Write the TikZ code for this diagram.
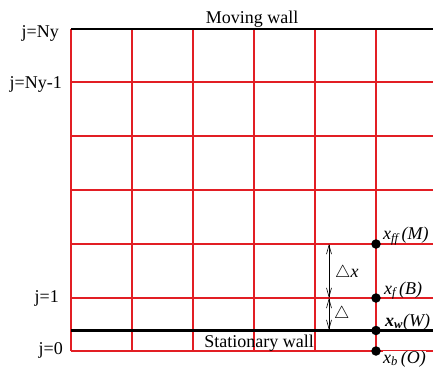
\documentclass[tikz,border=0pt]{standalone}
\usepackage{fontspec}
\setmainfont{Liberation Serif}
\usetikzlibrary{arrows.meta}
\definecolor{gridred}{RGB}{226,30,36}
\begin{document}
\begin{tikzpicture}[x=1pt,y=-1pt,
  gridline/.style={draw=gridred,line width=1.1pt},
  wall/.style={draw=black,line width=#1},
  lbl/.style={inner sep=0pt,font=\fontsize{18}{21}\selectfont},
  ptdot/.style={circle,fill=black,inner sep=0pt,minimum size=9.5pt},
  dimarrow/.style={line width=0.6pt,{Straight Barb[length=9pt,width=5pt]}-{Straight Barb[length=9pt,width=5pt]}}]
\useasboundingbox (0,0) rectangle (433,367);
% vertical grid lines
\foreach \x in {71,132,193,254,315,376}
  \draw[gridline] (\x,29) -- (\x,351);
% horizontal grid lines
\foreach \y in {82,136,190,244,298,351}
  \draw[gridline] (71,\y) -- (433,\y);
% walls
\draw[wall=1.6pt] (71,29) -- (433,29);
\draw[wall=2.6pt] (71,330.5) -- (433,330.5);
% wall labels
\node[lbl,anchor=base] (mw) at (252,23) {Moving wall};
\node[lbl,anchor=base] (sw) at (259,347) {Stationary wall};
% j labels
\node[lbl,anchor=east] (jNy) at (59,33.5) {j=Ny};
\node[lbl,anchor=east] (jNy1) at (62,84) {j=Ny-1};
\node[lbl,anchor=east] (j1) at (59,298) {j=1};
\node[lbl,anchor=east] (j0) at (63,350) {j=0};
% points
\node[ptdot] (M) at (376,244) {};
\node[ptdot] (B) at (376,298) {};
\node[ptdot] (W) at (376,330.5) {};
\node[ptdot] (O) at (376,351) {};
% point labels
\node[lbl,anchor=base west] (lM) at (383,239.5) {\textit{x\textsubscript{ff}\,(M)}};
\node[lbl,anchor=base west] (lB) at (384,294) {\textit{x\textsubscript{f}\,(B)}};
\node[lbl,anchor=base west] (lW) at (385,326) {\textbf{\textit{x\textsubscript{w}}}\textit{(W)}};
\node[lbl,anchor=base west,fill=white,inner sep=0pt] (lO) at (383,363) {\textit{x\textsubscript{b}\,(O)}};
% dimension arrows
\coordinate (a1) at (329,244);
\coordinate (a2) at (329,298);
\coordinate (a3) at (329,330);
\draw[dimarrow] (a1) -- (a2);
\draw[dimarrow] (a2) -- (a3);
\node[lbl,anchor=west] (dx) at (335,273) {$\triangle$\textit{x}};
\node[lbl,anchor=west] (d) at (334,314) {$\triangle$};
\end{tikzpicture}
\end{document}
